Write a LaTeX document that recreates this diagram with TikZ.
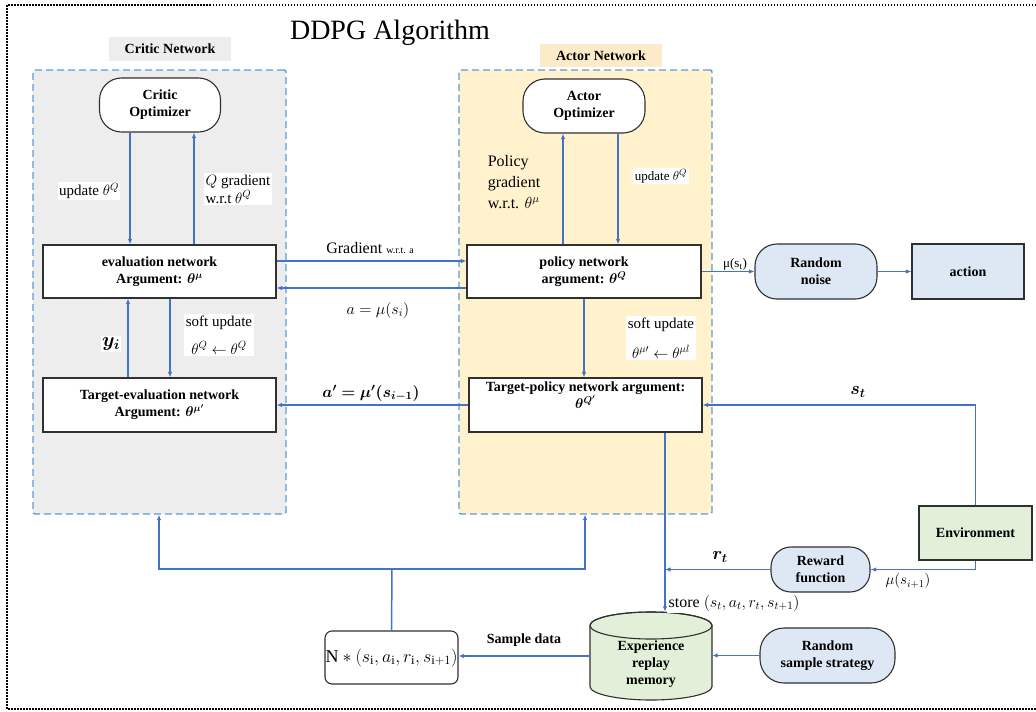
\RequirePackage{fix-cm}
\documentclass[tikz,border=0pt]{standalone}
\usepackage{amsmath}
\usepackage{bm}
\usepackage{fontspec}
\setmainfont{Liberation Serif}
\usetikzlibrary{arrows.meta,calc}

\definecolor{linkblue}{HTML}{4472C4}
\definecolor{dashblue}{HTML}{5B9BD5}
\definecolor{criticgray}{HTML}{EDEDED}
\definecolor{actorcream}{HTML}{FFF2CC}
\definecolor{actorhead}{HTML}{FCEBC8}
\definecolor{softblue}{HTML}{DEE8F4}
\definecolor{softgreen}{HTML}{E2EFD9}
\definecolor{boxline}{HTML}{303030}

\newcommand\ddpgbold{\fontsize{14}{17}\selectfont\bfseries}

\begin{document}
\begin{tikzpicture}[x=1pt,y=-1pt,
  frame/.style={draw=black, line width=1.5pt, dash pattern=on 1.5pt off 1.5pt},
  panel/.style={draw=dashblue, line width=1.4pt, dash pattern=on 7pt off 4pt,
                rounded corners=2pt, inner sep=0pt},
  conn/.style={draw=linkblue, line width=1.5pt},
  arr/.style={conn, -{Latex[length=5.5pt,width=4.5pt]}},
  box/.style={draw=boxline, line width=1.1pt, fill=white, align=center,
              inner sep=0pt, font=\ddpgbold},
  pill/.style={box, rounded corners=22pt},
  lbl/.style={fill=white, inner sep=1.5pt, align=center, font=\fontsize{15}{18}\selectfont},
  plain/.style={inner sep=1pt, align=center, font=\fontsize{15}{18}\selectfont}
]
\useasboundingbox (0,0) rectangle (1036,712);

% outer dotted frame (open on the right)
\draw[frame] (1036,5) -- (7,5) -- (7,709) -- (1036,709);

% title
\node[font=\fontsize{28}{32}\selectfont, inner sep=0pt] (title) at (390,33) {DDPG Algorithm};

% network panels
\node[panel, fill=criticgray, minimum width=253, minimum height=444] (critic) at (159.5,292) {};
\node[panel, fill=actorcream, minimum width=253, minimum height=444] (actor) at (585.5,292) {};

\node[fill=criticgray, minimum width=122, minimum height=24, inner sep=0pt,
      font=\ddpgbold] (criticlabel) at (170,49) {Critic Network};
\node[fill=actorhead, minimum width=122, minimum height=23, inner sep=0pt,
      font=\ddpgbold] (actorlabel) at (601,55.5) {Actor Network};

% critic side
\node[pill, minimum width=121, minimum height=54] (copt) at (160,105) {Critic\\Optimizer};
\node[box, minimum width=233, minimum height=53] (eval) at (159.5,271.5)
  {evaluation network\\Argument: $\bm{\theta^{\mu}}$};
\node[box, minimum width=233, minimum height=54] (teval) at (159.5,405)
  {Target-evaluation network\\Argument: $\bm{\theta^{\mu'}}$};

% actor side
\node[pill, minimum width=122, minimum height=54] (aopt) at (584,106) {Actor\\Optimizer};
\node[box, minimum width=234, minimum height=53] (policy) at (584,271.5)
  {policy network\\argument: $\bm{\theta^{Q}}$};
\node[box, minimum width=233, minimum height=54] (tpolicy) at (585.5,405) {};
\node[inner sep=0pt, align=center, font=\ddpgbold, anchor=north] (tpolicytext)
  at ($(tpolicy.north)+(0,4)$) {Target-policy network argument:\\$\bm{\theta^{Q'}}$};

% environment side
\node[pill, fill=softblue, minimum width=122, minimum height=55] (noise) at (816,271.5) {Random\\noise};
\node[box, fill=softblue, minimum width=112, minimum height=55] (action) at (968,271.5) {action};
\node[box, fill=softgreen, minimum width=113, minimum height=54] (env) at (975.5,533) {Environment};
\node[pill, fill=softblue, rounded corners=20pt, minimum width=99, minimum height=45] (reward) at (820.5,569.5) {Reward\\function};
\node[pill, fill=softblue, rounded corners=24pt, minimum width=135, minimum height=55] (rss) at (827.5,655.5) {Random\\sample strategy};
\node[box, rounded corners=7pt, minimum width=133, minimum height=53,
      font=\fontsize{18}{22}\selectfont] (nbox) at (391.5,657.5)
  {$\mathrm{N} * (s_{\mathrm{i}}, a_{\mathrm{i}}, r_{\mathrm{i}}, s_{\mathrm{i}+1})$};

% experience replay memory drawn as a cylinder
\node[minimum width=122, minimum height=88, inner sep=0pt] (mem) at (651,656) {};
\draw[draw=boxline, line width=1.1pt, fill=softgreen]
  (590,625.5) -- (590,686.5)
  arc[start angle=180, end angle=0, x radius=61, y radius=13.5]
  -- (712,625.5)
  arc[start angle=0, end angle=-180, x radius=61, y radius=13.5] -- cycle;
\draw[draw=boxline, line width=1.1pt] (651,625.5) ellipse[x radius=61, y radius=13.5];
\node[inner sep=0pt, align=center, font=\ddpgbold] (memtext) at (651,664) {Experience\\replay\\memory};

% helper coordinates for vertical connector positions
\coordinate (xcd) at (130,0);
\coordinate (xcu) at (194,0);
\coordinate (xyi) at (128,0);
\coordinate (xsu) at (170,0);
\coordinate (xau) at (563,0);
\coordinate (xad) at (618,0);
\coordinate (xpt) at (584,0);
\coordinate (xst) at (665,0);
\coordinate (ygr) at (0,261);
\coordinate (yam) at (0,288);
\coordinate (bus) at (392,569);
\coordinate (busl) at (159,569);
\coordinate (busr) at (585,569);

% critic connectors
\draw[arr] (copt.south -| xcd) -- (eval.north -| xcd);
\draw[arr] (eval.north -| xcu) -- (copt.south -| xcu);
\draw[arr] (teval.north -| xyi) -- (eval.south -| xyi);
\draw[arr] (eval.south -| xsu) -- (teval.north -| xsu);

% actor connectors
\draw[arr] (policy.north -| xau) -- (aopt.south -| xau);
\draw[arr] (aopt.south -| xad) -- (policy.north -| xad);
\draw[arr] (policy.south -| xpt) -- (tpolicy.north -| xpt);

% between critic and actor
\draw[arr] (eval.east |- ygr) -- (policy.west |- ygr);
\draw[arr] (policy.west |- yam) -- (eval.east |- yam);
\draw[arr] (tpolicy.west) -- (teval.east);

% environment loop
\draw[arr] (policy.east |- noise.west) -- (noise.west);
\draw[arr] (noise.east) -- (action.west);
\draw[arr] (env.north) |- (tpolicy.east);
\draw[arr] (env.south) |- (reward.east);
\draw[arr] (reward.west) -- (reward.west -| xst);
\draw[arr] (tpolicy.south -| xst) -- (mem.north -| xst);
\draw[arr] (rss.west) -- (rss.west -| mem.east);
\draw[arr] (mem.west) -- (mem.west -| nbox.east);

% sampled minibatch feeds both networks
\draw[conn] (nbox.north) -- (bus);
\draw[arr] (bus) -- (busl) -- (critic.south -| busl);
\draw[arr] (bus) -- (busr) -- (actor.south -| busr);

% connector labels
\node[lbl] (lupc) at (89,191) {update $\theta^{Q}$};
\node[lbl, align=left] (lqg) at (238,189) {$Q$ gradient\\w.r.t $\theta^{Q}$};
\node[lbl, font=\fontsize{20}{22}\selectfont] (lyi) at (111,344) {$\bm{y_i}$};
\node[lbl, font=\fontsize{15}{28}\selectfont] (lsuc) at (219,335) {soft update\\$\theta^{Q} \leftarrow \theta^{Q}$};
\node[plain, align=left, font=\fontsize{16}{21}\selectfont] (lpg) at (514,182) {Policy\\gradient\\w.r.t. $\theta^{\mu}$};
\node[lbl, font=\fontsize{13}{16}\selectfont] (lupa) at (661,176) {update $\theta^{Q}$};
\node[plain, font=\fontsize{16}{18}\selectfont] (lgr) at (370,248) {Gradient {\fontsize{10}{12}\selectfont w.r.t. a}};
\node[plain, font=\fontsize{16}{18}\selectfont] (lam) at (378,310) {$a = \mu(s_i)$};
\node[lbl, font=\fontsize{15}{30}\selectfont] (lsua) at (661,338) {soft update\\$\theta^{\mu\prime} \leftarrow \theta^{\mu l}$};
\node[plain, font=\fontsize{16}{20}\selectfont] (lap) at (371,393) {$\bm{a' = \mu'(s_{i-1})}$};
\node[plain, font=\fontsize{13}{15}\selectfont] (lmust) at (735,264) {μ(s\textsubscript{t})};
\node[plain, font=\fontsize{18}{22}\selectfont] (lst) at (858,392) {$\bm{s_t}$};
\node[plain, font=\fontsize{15}{18}\selectfont] (lmunext) at (908,581) {$\mu(s_{i+1})$};
\node[plain, font=\fontsize{18}{22}\selectfont] (lrt) at (720,557) {$\bm{r_t}$};
\node[lbl, anchor=west, font=\fontsize{16}{18}\selectfont] (lstore) at (667,603) {store $(s_t, a_t, r_t, s_{t+1})$};
\node[plain, font=\ddpgbold] (lsample) at (524,640) {Sample data};
\end{tikzpicture}
\end{document}
